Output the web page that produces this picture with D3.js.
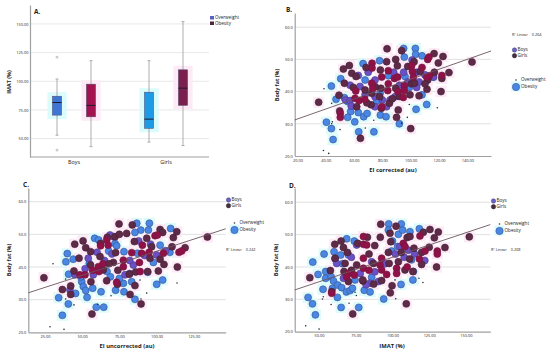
<!DOCTYPE html>
<html>
<head>
<meta charset="utf-8">
<script src="https://cdn.jsdelivr.net/npm/d3@7"></script>
<style>
  html, body { margin: 0; padding: 0; background: #fff; }
  svg { display: block; }
  text { font-family: "Open Sans", "Liberation Sans", sans-serif; fill: #222; }
</style>
</head>
<body>
<svg id="fig" width="550" height="353"></svg>
<script>
// panel A, boxplots
const boxGroups = ["Boys", "Boys", "Girls", "Girls"];
const boxKinds = ["Overweight", "Obesity", "Overweight", "Obesity"];
const boxLow = [53, 43, 47, 44];
const boxQ1 = [70.5, 69, 59, 79];
const boxMedian = [81.5, 79, 67, 94];
const boxQ3 = [87, 97.5, 90.5, 110];
const boxHigh = [102, 118, 118, 152];
const boxColors = ["#3f76d6", "#a3124f", "#1f9ae6", "#7b1f4f"];
const boxOutliers = [[0, 121], [0, 40]];
const yTicksA = [50, 75, 100, 125, 150];

const yTicksFat = [20, 30, 40, 50, 60];

// panel B, EI corrected
const bBoys = [[95,53.4],[103.3,53.4],[103.5,51.6],[95.5,50.7],[108,51.1],[78,49.6],[66.4,48.7],[84.2,44.9],[50.6,44],[67.8,43.6],[96,44.7],[44,41.7],[47.3,37.6],[53.2,38.1],[55.5,36.9],[57.6,33.8],[55.5,32],[63,33.5],[66.8,32.2],[69.2,33.2],[76,37.1],[78.4,39.5],[78.6,32.7],[82.6,32.2],[40.5,30.5],[44,28.5],[45.2,25.1],[60.5,30.6],[63.3,27.5],[74,27.5],[92,30],[103.8,34.5],[111.3,36],[108,39],[116,44.5],[99,41.3]];
const bBoysMixed = [[57.2,42],[54,37.4],[57.2,37.2],[67.8,39],[74.8,43.6],[83,35.3],[85.4,37.4],[101,49.8],[104.2,41.3],[116.1,44.5],[110,45.2],[74.8,38.4],[89,38.4],[64.2,41.6],[80,37.4],[74.8,35.3],[58,35.5],[104,46],[98,43],[92,42],[106,43],[70,46],[63,45],[88,46],[95,46]];
const bGirls = [[35,36.7],[83.3,53.3],[93.6,52.7],[116.5,51.8],[122.8,50.9],[143.3,49.2],[127,45.9],[119.5,48.9],[122,44.1],[121.4,40],[111.5,40.7],[105.9,38.7],[100.5,42.4],[100,28.5],[64.5,25.5],[90,32],[91.2,34.3],[85,36.4],[79.3,34.8],[61.9,35.3],[72,35.9],[49.9,34],[49.4,38.9],[53.2,42.6],[52.5,47],[56.7,48.1],[58.4,45.7],[61.4,44.7],[68.5,47.5],[78.6,46.7],[83,49.3],[89.4,50],[90.6,48],[97.9,47.8],[102.4,49.3],[106.6,46.2],[116.7,46],[112,43.6],[110.1,42.4],[102.6,42.6],[89.4,41],[79,41],[87,37.8],[67.8,40.5],[59.5,41.3],[72.5,39.5],[99.5,39],[75,41.5],[78,38.5],[69,36.5],[92,38.5]];
const bGirlsMixed = [[72.7,48.8],[72.7,47.3],[84.2,46.5],[79.5,44.5],[88.5,44.1],[90.8,44.5],[100.7,48.1],[101.2,46.2],[112,50],[112.9,50.7],[72.5,42.6],[73.2,41],[61.2,40.2],[60.7,37.9],[63.5,37.2],[67.5,37.6],[84.2,42.4],[83.8,40.3],[95.5,41.8],[94.8,38.2],[95.5,40.3],[101.9,44.5],[113.2,44.9],[122,45],[50.3,33.3],[50.3,32],[79.6,35.3],[111.3,44.5],[91,40],[108,47.5]];
const bOverweight = [[38.8,40.9],[44.2,36.4],[44.7,30.6],[44.2,30],[50.1,28.2],[68,28.7],[73.9,31.1],[38.4,21.7],[42.1,20.8],[99,36],[97.6,32],[118.8,35],[93.6,30.2],[79.5,37.4]];
const bFitX = [18.1, 156.7];
const bFitY = [31.2, 52.6];

// panel C, EI uncorrected
const cBoys = [[86.7,53.4],[95.2,53.4],[89.4,51.3],[85.5,50.6],[94.5,51.3],[109.5,51.8],[58.4,48.8],[61.1,48.3],[72.1,47.2],[73.2,46.5],[67.8,44.9],[78.1,44.7],[40,44.1],[39.1,41.6],[44,42.4],[40.9,37.8],[49.7,35.5],[50.8,34],[52.4,32.8],[45.6,31.9],[53.3,30.7],[57.1,33.5],[62.7,32.4],[34.2,30.6],[40.7,28.7],[36.7,25.2],[59.5,27.7],[64.5,27.7],[72.5,32.9],[78.1,32.4],[77.7,35],[85.5,30.1],[100.1,34.7],[104.1,36],[94.1,38.4],[87.1,44.2],[102.4,46.7],[66.7,38.6],[69,37],[54.8,41.1],[83.3,35.5],[97.9,41.4],[109,44.5],[49,37],[75,36.5]];
const cBoysMixed = [[54.1,42.7],[45.2,37.6],[41.8,33],[57.5,37.6],[71,49.3],[84.4,40.6],[68.7,49.8],[100.1,43.7],[78.8,37.6],[52,39.5],[60,44.5],[65,42],[70,44],[82,42],[92,43.5],[96,47],[88,48],[106,45],[82,38]];
const cGirls = [[24.3,36.7],[74.8,53.2],[83.7,52.9],[102.4,51.5],[104.1,50.6],[113.6,50.8],[134.2,49.2],[119.2,45.9],[111.3,49],[114,40],[105,40.8],[101.2,38.8],[89.6,28.7],[56.6,25.6],[82.2,31.6],[85.5,34.3],[73.7,34.7],[66.5,35.8],[55.9,35.5],[36.7,33.1],[44.5,38.8],[47.9,42.7],[45,47],[50.6,48],[52.4,45.9],[55.7,44.7],[62.4,47.2],[66.9,49.1],[72.1,49.3],[75,50],[79.9,50.3],[72.5,44.4],[85.1,47.8],[93.4,48.8],[96.7,46.2],[110.4,46.2],[102.4,42.4],[95.6,42.7],[81.7,37.8],[71,41.4],[62,43.2],[55.7,40.6],[64.2,39.1],[42.3,31.6],[42.3,34.2],[94,38.6],[68,41],[74,39],[86,38.5]];
const cGirlsMixed = [[62.4,46.5],[66.5,48.3],[67.5,46.7],[83.3,44.4],[90.5,46.7],[99,49.6],[100.6,49.8],[104.6,44.2],[115.1,44.5],[116.9,44.9],[77.7,42.1],[77.7,40.1],[88.5,41.4],[89,38.6],[60.9,40.1],[61.3,38.6],[51.9,37.6],[48.5,37.6],[73.2,35.3],[90,44.2],[57,39],[64,41],[95,44.5]];
const cOverweight = [[30.4,41],[38.9,36.3],[38.9,30.2],[44.5,28.4],[60.4,28.6],[69.4,31.2],[28.4,21.7],[37.8,20.9],[88.9,36],[93.4,32],[113.8,35.1],[89.6,30.2]];
const cFitX = [13.8, 146.5];
const cFitY = [32.1, 51.7];

// panel D, IMAT
const dBoys = [[97.4,53.3],[106,53.3],[97.2,51.4],[104,50.1],[106.9,51.4],[111.9,50.9],[118.3,51.8],[68.8,48.7],[74,48],[60.2,44.7],[53.4,44],[64.7,43.7],[70,43.7],[45.7,41.5],[60.9,42.5],[49.3,37.7],[54.5,38.6],[54.5,36.5],[58.2,37],[59.8,35.7],[52.7,33.1],[59.1,33.4],[62.7,34.4],[65.4,33.6],[68.6,32.3],[71.1,32.7],[72.7,33.4],[62.5,30.6],[42.5,30.6],[45.5,28.6],[47.5,25.2],[65,27.5],[77,27.5],[80.8,32.8],[84.7,32.3],[94,30.1],[105.8,34.6],[113.9,36],[85.8,36.8],[114.2,38.6],[99.4,44.9],[103.5,46.3],[113,42.2],[74.5,36],[66,41],[100,48]];
const dBoysMixed = [[62,41.1],[66.6,36.5],[75.6,46.8],[85.8,41.6],[90.4,35.5],[105,46.3],[110.8,45.2],[84.7,35],[72,43],[78,38],[88,38.5],[95,41],[102,44],[108,43],[115,44],[122,42],[82,34.5]];
const dGirls = [[43.7,36.7],[92,53.2],[102.4,52.6],[125.5,51.6],[131.2,50.8],[121,50.7],[152.3,49.3],[135.7,46],[128.5,49],[130,40],[119.8,40.8],[113.9,38.6],[109.4,28.6],[72.9,25.5],[98.5,32],[99.7,34.2],[87.2,34.7],[92.6,35.8],[79.9,35.7],[70,35.5],[58.6,32.4],[57.7,38.9],[60.9,42.7],[60.7,47],[65,48],[66.6,46],[69.3,44.5],[76.3,47.3],[82.9,49.2],[87.9,46.6],[91.7,49.2],[98.3,50.4],[98.8,47.8],[110,49.1],[111.9,49.4],[114.6,45.8],[125,46.1],[119.8,44.5],[111.7,42.5],[104,41.6],[97.2,44.5],[97.7,41.1],[87,41.1],[75.6,40.6],[67.7,41.1],[67,38.6],[79.7,36],[108.5,39.1],[72,39],[84,44],[106,44.5]];
const dGirlsMixed = [[80.2,49.4],[80.2,47],[82.4,46.8],[92.6,42.7],[91.5,40.6],[92.6,39.1],[102.8,39.6],[102.8,38],[107.4,47.3],[108.5,46.3],[118.7,49.6],[118.3,42.5],[122.1,44.9],[130.5,44.9],[130.5,44],[80.2,42.7],[80.2,39.6],[70,38],[74,37.5],[68.8,37],[58.6,31.9],[96,37.7],[84,39],[110,40]];
const dOverweight = [[40.9,21.8],[50,20.8],[52.9,30.8],[52.3,30.1],[58.2,28.4],[70.4,28.8],[75.4,31.2],[74.5,32.2],[118,36.5],[120.7,35.2],[102.2,30.2],[101.7,36]];
const dFitX = [33.4, 166.6];
const dFitY = [32.9, 53.1];

const svg = d3.select("#fig");

function styleAxis(g) {
  g.selectAll(".domain").attr("stroke", "#a0a0a0").attr("stroke-width", 1.2);
  g.selectAll(".tick line").remove();
  g.selectAll("text").attr("font-size", 3.9).attr("fill", "#555");
}

function addText(x, y, str, size, opts) {
  opts = opts || {};
  const t = svg.append("text")
    .attr("x", x).attr("y", y)
    .attr("font-size", size)
    .attr("font-weight", opts.bold ? 700 : 400)
    .attr("text-anchor", opts.anchor || "start")
    .attr("dominant-baseline", "middle")
    .text(str);
  if (opts.rotate) t.attr("transform", `rotate(-90,${x},${y})`);
  return t;
}

// Panel A
const xGroup = d3.scaleBand().domain(["Boys", "Girls"]).range([28, 212]);
const xKind = d3.scaleBand().domain(["Overweight", "Obesity"]).range([12, 80]);
const yA = d3.scaleLinear().domain([34, 166.5]).range([157, 5]);

const gridA = svg.append("g");
gridA.selectAll("line").data(yTicksA).join("line")
  .attr("x1", 30).attr("x2", 209)
  .attr("y1", d => yA(d)).attr("y2", d => yA(d))
  .attr("stroke", "#e2e2e2").attr("stroke-width", 0.8);

svg.append("g").attr("transform", "translate(30,0)")
  .call(d3.axisLeft(yA).tickValues(yTicksA).tickFormat(d3.format(".2f")).tickSize(0).tickPadding(1.5))
  .call(styleAxis);
svg.append("line").attr("x1", 30).attr("x2", 209).attr("y1", 157).attr("y2", 157)
  .attr("stroke", "#a0a0a0").attr("stroke-width", 1.2);

const boxIdx = d3.range(boxGroups.length);
const boxW = xKind.bandwidth() * 0.27;
const boxX = i => xGroup(boxGroups[i]) + xKind(boxKinds[i]) + xKind.bandwidth() / 2;

// pale halos the source picture has round its boxes
svg.append("g").selectAll("rect").data(boxIdx).join("rect")
  .attr("x", i => boxX(i) - boxW / 2 - 5)
  .attr("width", boxW + 10)
  .attr("y", i => yA(boxQ3[i]) - 4)
  .attr("height", i => yA(boxQ1[i]) - yA(boxQ3[i]) + 8)
  .attr("fill", i => boxKinds[i] === "Obesity" ? "#fdeaf6" : "#dcfbfb");

const whisk = svg.append("g").attr("stroke", "#9a9a9a").attr("stroke-width", 0.8);
whisk.selectAll(".stem").data(boxIdx).join("line").attr("class", "stem")
  .attr("x1", boxX).attr("x2", boxX)
  .attr("y1", i => yA(boxLow[i])).attr("y2", i => yA(boxHigh[i]));
whisk.selectAll(".capHi").data(boxIdx).join("line").attr("class", "capHi")
  .attr("x1", i => boxX(i) - 1.5).attr("x2", i => boxX(i) + 1.5)
  .attr("y1", i => yA(boxHigh[i])).attr("y2", i => yA(boxHigh[i]));
whisk.selectAll(".capLo").data(boxIdx).join("line").attr("class", "capLo")
  .attr("x1", i => boxX(i) - 1.5).attr("x2", i => boxX(i) + 1.5)
  .attr("y1", i => yA(boxLow[i])).attr("y2", i => yA(boxLow[i]));

svg.append("g").selectAll("rect").data(boxIdx).join("rect")
  .attr("x", i => boxX(i) - boxW / 2).attr("width", boxW)
  .attr("y", i => yA(boxQ3[i]))
  .attr("height", i => yA(boxQ1[i]) - yA(boxQ3[i]))
  .attr("fill", i => boxColors[i])
  .attr("stroke", "#4a4a6a").attr("stroke-width", 0.5);
svg.append("g").selectAll("line").data(boxIdx).join("line")
  .attr("x1", i => boxX(i) - boxW / 2).attr("x2", i => boxX(i) + boxW / 2)
  .attr("y1", i => yA(boxMedian[i])).attr("y2", i => yA(boxMedian[i]))
  .attr("stroke", "#1c1c30").attr("stroke-width", 1);
svg.append("g").selectAll("circle").data(boxOutliers).join("circle")
  .attr("cx", d => boxX(d[0])).attr("cy", d => yA(d[1])).attr("r", 1)
  .attr("fill", "none").attr("stroke", "#888").attr("stroke-width", 0.5);

addText(xGroup("Boys") + xGroup.bandwidth() / 2, 163, "Boys", 5.4, { anchor: "middle" });
addText(xGroup("Girls") + xGroup.bandwidth() / 2, 163, "Girls", 5.4, { anchor: "middle" });
addText(9.5, 82, "IMAT (%)", 5.4, { bold: true, anchor: "middle", rotate: true });
addText(34, 12.5, "A.", 6.5, { bold: true });

svg.append("rect").attr("x", 210).attr("y", 16).attr("width", 4).attr("height", 3.5).attr("fill", "#5860c4");
svg.append("rect").attr("x", 210).attr("y", 21.5).attr("width", 4).attr("height", 3.5).attr("fill", "#4b2840");
addText(215, 18, "Overweight", 4.5);
addText(215, 23.5, "Obesity", 4.5);

// scatter panels
function drawScatter(p) {
  const x = d3.scaleLinear().domain(p.xDomain).range(p.xRange);
  const y = d3.scaleLinear().domain(p.yDomain).range(p.yRange);
  const g = svg.append("g");

  g.append("g").selectAll("line").data(yTicksFat.slice(1)).join("line")
    .attr("x1", p.xRange[0]).attr("x2", p.xRange[1])
    .attr("y1", d => y(d)).attr("y2", d => y(d))
    .attr("stroke", "#dedede").attr("stroke-width", 0.9);

  g.append("g").attr("transform", `translate(0,${p.yRange[0]})`)
    .call(d3.axisBottom(x).tickValues(p.xTicks).tickFormat(d3.format(".2f")).tickSize(0).tickPadding(3))
    .call(styleAxis);
  g.append("g").attr("transform", `translate(${p.xRange[0]},0)`)
    .call(d3.axisLeft(y).tickValues(yTicksFat).tickFormat(d3.format(".1f")).tickSize(0).tickPadding(2))
    .call(styleAxis);

  const halo = (data, col) => g.append("g").selectAll("rect").data(data).join("rect")
    .attr("x", d => x(d[0]) - 5.5).attr("y", d => y(d[1]) - 5.5)
    .attr("width", 11).attr("height", 11).attr("fill", col);
  halo(p.boys, "#dcfbfb");
  halo(p.girls.concat(p.girlsMixed), "#fdeaf6");

  const dots = (data, col, edge) => g.append("g").selectAll("circle").data(data).join("circle")
    .attr("cx", d => x(d[0])).attr("cy", d => y(d[1])).attr("r", 3.5)
    .attr("fill", col).attr("stroke", edge).attr("stroke-width", 0.6);
  dots(p.boys, "#4a86e4", "#35508f");
  dots(p.boysMixed, "#6b4fc4", "#4a3a8a");
  dots(p.girls, "#5f2a48", "#3d2233");
  dots(p.girlsMixed, "#8f1147", "#6d1a3e");

  g.append("g").selectAll("circle").data(p.overweight).join("circle")
    .attr("cx", d => x(d[0])).attr("cy", d => y(d[1])).attr("r", 0.8)
    .attr("fill", "#23303a");

  g.append("path")
    .datum(d3.zip(p.fitX, p.fitY))
    .attr("fill", "none").attr("stroke", "#6b5560").attr("stroke-width", 0.9)
    .attr("d", d3.line().x(d => x(d[0])).y(d => y(d[1])));

  addText(p.xTitleAt[0], p.xTitleAt[1], p.xTitle, 5.8, { bold: true, anchor: "middle" });
  addText(p.yTitleAt[0], p.yTitleAt[1], p.yTitle, 5.4, { bold: true, anchor: "middle", rotate: true });
  addText(p.letterAt[0], p.letterAt[1], p.letter, 6.5, { bold: true });

  // legends
  const legendDot = (at, r, col, edge) => svg.append("circle")
    .attr("cx", at[0]).attr("cy", at[1]).attr("r", r).attr("fill", col).attr("stroke", edge).attr("stroke-width", 0.5);
  legendDot(p.sexAt, 2.2, "#6a62c8", "#40407a");
  legendDot([p.sexAt[0], p.sexAt[1] + 5.7], 2.2, "#4a2c40", "#2c2029");
  addText(p.sexAt[0] + 3, p.sexAt[1], "Boys", 4.6);
  addText(p.sexAt[0] + 3, p.sexAt[1] + 5.7, "Girls", 4.6);
  svg.append("rect").attr("x", p.sizeAt[0] - 5).attr("y", p.sizeAt[1] + 1.5)
    .attr("width", 10).attr("height", 10).attr("fill", "#dcfbfb");
  legendDot(p.sizeAt, 0.8, "#23303a", "none");
  legendDot([p.sizeAt[0], p.sizeAt[1] + 7], 3.7, "#4a86e4", "#35508f");
  addText(p.sizeAt[0] + 5, p.sizeAt[1], "Overweight", 4.6);
  addText(p.sizeAt[0] + 5, p.sizeAt[1] + 7, "Obesity", 4.6);
  addText(p.r2At[0], p.r2At[1], p.r2, 3.8);
}

drawScatter({
  boys: bBoys, boysMixed: bBoysMixed, girls: bGirls, girlsMixed: bGirlsMixed, overweight: bOverweight,
  fitX: bFitX, fitY: bFitY,
  xDomain: [18.1, 156.7], xRange: [294.7, 491],
  yDomain: [20, 64.4], yRange: [156, 13],
  xTicks: [20, 40, 60, 80, 100, 120, 140],
  xTitle: "EI corrected (au)", xTitleAt: [393, 170.5],
  yTitle: "Body fat (%)", yTitleAt: [278, 85],
  letter: "B.", letterAt: [286, 10.5],
  sexAt: [514.5, 50], sizeAt: [516, 80],
  r2: "R² Linear = 0.264", r2At: [512, 35]
});

drawScatter({
  boys: cBoys, boysMixed: cBoysMixed, girls: cGirls, girlsMixed: cGirlsMixed, overweight: cOverweight,
  fitX: cFitX, fitY: cFitY,
  xDomain: [13.8, 146.5], xRange: [28.3, 225.7],
  yDomain: [20, 64.2], yRange: [332.3, 188],
  xTicks: [25, 50, 75, 100, 125],
  xTitle: "EI uncorrected (au)", xTitleAt: [127, 346.5],
  yTitle: "Body fat (%)", yTitleAt: [10, 260],
  letter: "C.", letterAt: [23, 185],
  sexAt: [228.5, 200], sizeAt: [234.5, 223],
  r2: "R² Linear = 0.242", r2At: [226, 249.5]
});

drawScatter({
  boys: dBoys, boysMixed: dBoysMixed, girls: dGirls, girlsMixed: dGirlsMixed, overweight: dOverweight,
  fitX: dFitX, fitY: dFitY,
  xDomain: [33.4, 166.6], xRange: [294.7, 490.3],
  yDomain: [20, 64.4], yRange: [331.7, 188],
  xTicks: [50, 75, 100, 125, 150],
  xTitle: "IMAT (%)", xTitleAt: [392, 346.5],
  yTitle: "Body fat (%)", yTitleAt: [277, 260],
  letter: "D.", letterAt: [289, 186],
  sexAt: [493.5, 201], sizeAt: [499.5, 224],
  r2: "R² Linear = 0.268", r2At: [491, 250]
});
</script>
</body>
</html>
